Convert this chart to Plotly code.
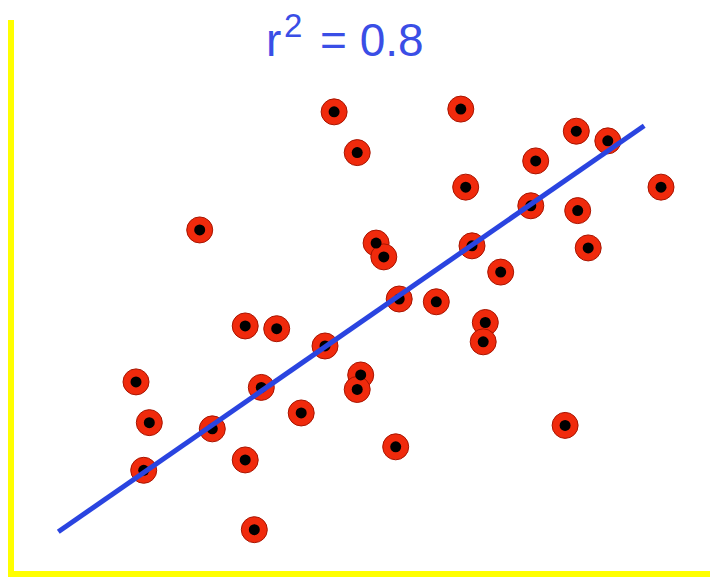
import plotly.graph_objects as go

# Scatter data
x_vals = [4.63, 6.44, 8.09, 8.54, 4.96, 7.51, 6.51, 9.30, 7.44, 8.11,
          2.71, 5.23, 5.34, 6.60, 8.26, 7.01, 5.56, 6.09, 3.36, 3.81,
          6.79, 6.76, 4.50, 5.01, 4.96, 1.80, 3.59, 1.99, 2.89, 4.16,
          5.51, 7.93, 3.36, 1.91, 3.49]
y_vals = [6.67, 6.71, 6.39, 6.25, 6.08, 5.96, 5.58, 5.58, 5.31, 5.24,
          4.96, 4.77, 4.57, 4.73, 4.70, 4.35, 3.96, 3.92, 3.57, 3.53,
          3.62, 3.34, 3.28, 2.86, 2.65, 2.76, 2.68, 2.17, 2.08, 2.31,
          1.82, 2.13, 1.63, 1.48, 0.62]

# Regression line
fit_slope = 0.7025
fit_intercept = 0.105
fit_x = [0.69, 9.06]
fit_y = [fit_slope * v + fit_intercept for v in fit_x]

r2_base = "r"
r2_exp = "2"
r2_value = "= 0.8"

W, H = 710, 577
ML, MR, MT, MB = 14, 0, 20, 5.5

fig = go.Figure()
fig.add_trace(go.Scatter(
    x=x_vals, y=y_vals, mode="markers",
    marker=dict(size=26, color="#f02a0c", line=dict(color="#a81400", width=1)),
    hoverinfo="skip", showlegend=False))
fig.add_trace(go.Scatter(
    x=x_vals, y=y_vals, mode="markers",
    marker=dict(size=11, color="black"),
    hoverinfo="skip", showlegend=False))
fig.add_trace(go.Scatter(
    x=fit_x, y=fit_y, mode="lines",
    line=dict(color="#2a44e0", width=5),
    hoverinfo="skip", showlegend=False))

title_font = "Liberation Sans, Arial, sans-serif"
title_color = "#3a4ee6"

def add_text(txt, px_left, py_center, size):
    fig.add_annotation(
        text=txt, xref="paper", yref="paper", x=0, y=1,
        xanchor="left", yanchor="middle",
        xshift=px_left - ML, yshift=-(py_center - MT),
        showarrow=False, borderpad=0,
        font=dict(family=title_font, size=size, color=title_color))

add_text(r2_base, 265, 40, 46)
add_text(r2_exp, 283, 25, 33)
add_text(r2_value, 319, 40, 46)

fig.update_layout(
    width=W, height=H,
    margin=dict(l=ML, r=MR, t=MT, b=MB, autoexpand=False),
    paper_bgcolor="white", plot_bgcolor="white",
)
fig.update_xaxes(range=[0.057, 10], showgrid=False, zeroline=False,
                 showticklabels=False, ticks="",
                 showline=True, linecolor="#ffff00", linewidth=6)
fig.update_yaxes(range=[0.0217, 8], showgrid=False, zeroline=False,
                 showticklabels=False, ticks="",
                 showline=True, linecolor="#ffff00", linewidth=6)

fig.write_html("out.html", config={"displayModeBar": False},
               post_script="document.body.style.margin='0px';")
